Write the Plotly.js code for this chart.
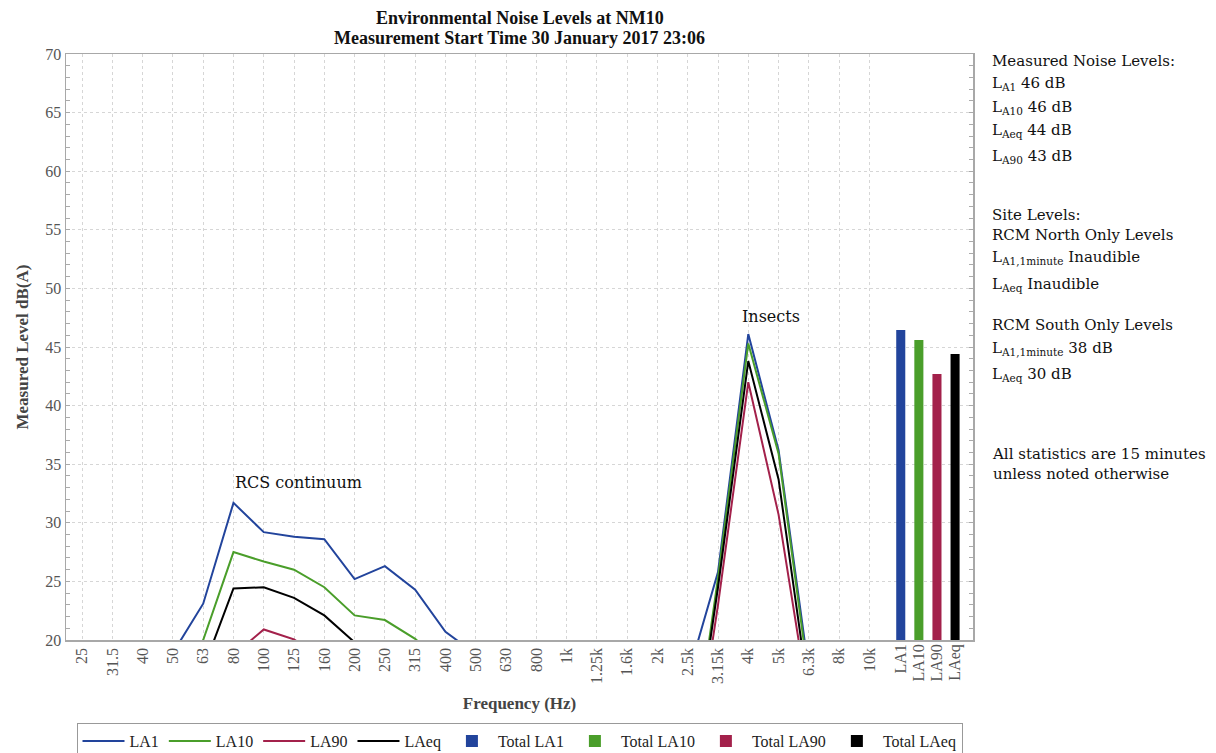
<!DOCTYPE html>
<html><head><meta charset="utf-8">
<script src="https://cdn.plot.ly/plotly-3.0.1.min.js"></script>
<style>html,body{margin:0;padding:0;background:#fff}#chart{width:1216px;height:753px}</style>
</head><body><div id="chart"></div>
<script>
// ---- data ----
const freqBands = ['25','31.5','40','50','63','80','100','125','160','200','250','315','400','500','630','800','1k','1.25k','1.6k','2k','2.5k','3.15k','4k','5k','6.3k','8k','10k'];
const la1  = [15.2,14.8,16.5,18.9,23.1,31.7,29.2,28.8,28.6,25.2,26.3,24.3,20.7,18.8,17.5,16.9,16.2,15.8,15.5,15.9,16.9,25.8,46.1,36.2,17.3,14.6,13.9];
const la10 = [13.5,13.2,14.8,16.8,20.0,27.5,26.7,26.0,24.5,22.1,21.7,20.1,17.8,16.2,15.1,14.6,14.0,13.6,13.4,13.8,7.1,25.3,45.3,35.9,16.6,13.0,12.2];
const la90 = [10.5,10.2,11.8,13.5,15.8,18.7,20.9,20.05,18.3,16.9,16.0,14.8,13.2,11.9,11.0,10.4,9.8,9.4,9.1,8.8,5.9,23.0,42.0,30.7,14.5,10.4,9.6];
const laeq = [12.0,11.8,13.5,15.2,17.5,24.4,24.5,23.6,22.1,19.8,18.2,16.5,14.8,13.2,12.3,11.8,11.2,10.8,10.5,10.2,6.9,24.5,43.8,33.7,15.3,11.5,10.8];
const totalLabels = ['LA1','LA10','LA90','LAeq'];
const totalValues = [46.45,45.6,42.7,44.4];
const lineNames = ['LA1','LA10','LA90','LAeq'];
const totalNames = ['Total LA1','Total LA10','Total LA90','Total LAeq'];
const measuredSubs = ['A1','A10','Aeq','A90'];
const measuredValues = [46,46,44,43];
const titleLines = ['Environmental Noise Levels at NM10','Measurement Start Time 30 January 2017 23:06'];

// ---- style ----
const colors = ['#22449c','#4a9e2a','#a3214b','#000000'];
const serif = 'Liberation Serif, Times New Roman, serif';
const textFont = 'DejaVu Serif, serif';

const series = [la1, la10, la90, laeq];
const traces = [];
series.forEach((s,i)=>{
  traces.push({type:'scatter', mode:'lines', name:lineNames[i], x:freqBands, y:s,
    line:{color:colors[i], width:2}, xaxis:'x', yaxis:'y', hoverinfo:'skip'});
});
totalLabels.forEach((lab,i)=>{
  traces.push({type:'bar', name:totalNames[i], x:[lab], y:[totalValues[i]], width:0.5,
    marker:{color:colors[i], line:{width:0}}, xaxis:'x2', yaxis:'y'});
});

const ann = [];
function rightText(t, py){
  ann.push({xref:'paper', yref:'paper', x:1.019, y:(640-py)/586, xanchor:'left', yanchor:'middle',
    text:t, showarrow:false, font:{family:textFont, size:15, color:'#111'}, align:'left'});
}
rightText('Measured Noise Levels:', 61);
const mY = [84, 107, 131, 157];
measuredSubs.forEach((s,i)=> rightText('L<sub>'+s+'</sub> '+measuredValues[i]+' dB', mY[i]));
rightText('Site Levels:<br>RCM North Only Levels', 224.5);
rightText('L<sub>A1,1minute</sub> Inaudible', 257);
rightText('L<sub>Aeq</sub> Inaudible', 284);
rightText('RCM South Only Levels', 325);
rightText('L<sub>A1,1minute</sub> 38 dB', 348);
rightText('L<sub>Aeq</sub> 30 dB', 374);
rightText('All statistics are 15 minutes<br>unless noted otherwise', 463.5);
ann.push({xref:'x', yref:'y', x:7.15, y:33.4, text:'RCS continuum', showarrow:false,
  font:{family:textFont, size:16, color:'#111'}});
ann.push({xref:'x', yref:'y', x:22.75, y:47.6, text:'Insects', showarrow:false,
  font:{family:textFont, size:16, color:'#111'}});
[18, 38].forEach((py,i)=>{
  ann.push({xref:'paper', yref:'paper', x:0.5, y:(640-py)/586, xanchor:'center', yanchor:'middle',
    text:titleLines[i], showarrow:false, font:{family:serif, size:18, weight:'bold', color:'#111'}});
});

const layout = {
  width:1216, height:753,
  margin:{l:66, r:243, t:54, b:113, autoexpand:false},
  paper_bgcolor:'#fff', plot_bgcolor:'#fff',
  font:{family:serif, color:'#333'},
  barmode:'overlay',
  showlegend:true,
  legend:{orientation:'h', x:0.5, xanchor:'center', y:-0.142, yanchor:'top',
    bordercolor:'#999', borderwidth:1, bgcolor:'#fff', itemwidth:42,
    font:{family:serif, size:16, color:'#222'}, traceorder:'normal'},
  xaxis:{type:'category', categoryorder:'array', categoryarray:freqBands,
    tickmode:'array', tickvals:freqBands, ticktext:freqBands,
    range:[-0.53, 29.42], tickangle:-90, ticks:'', automargin:false,
    tickfont:{family:serif, size:16, color:'#555'},
    showgrid:true, gridcolor:'#d6d6d6', griddash:'dot', gridwidth:1,
    showline:true, linecolor:'#a8a8a8', linewidth:1.5, mirror:true, zeroline:false,
    title:{text:'Frequency (Hz)', standoff:14, font:{family:serif, size:17, weight:'bold', color:'#444'}}},
  xaxis2:{type:'category', categoryorder:'array', categoryarray:totalLabels,
    tickmode:'array', tickvals:totalLabels, ticktext:totalLabels, automargin:false,
    overlaying:'x', anchor:'y', side:'bottom', range:[-46.1, 3.99],
    tickangle:-90, ticks:'', showgrid:false, showline:false, zeroline:false,
    tickfont:{family:serif, size:16, color:'#555'}},
  yaxis:{range:[20,70], dtick:5, tick0:20, ticks:'inside', ticklen:4, tickcolor:'#aaa', automargin:false,
    tickfont:{family:serif, size:16, color:'#555'},
    showgrid:true, gridcolor:'#d6d6d6', griddash:'dot', gridwidth:1,
    showline:true, linecolor:'#a8a8a8', linewidth:1.5, mirror:'ticks', zeroline:false,
    minor:{dtick:1, ticks:'inside', ticklen:4, tickcolor:'#aaa', showgrid:false},
    title:{text:'Measured Level dB(A)', standoff:12, font:{family:serif, size:17, weight:'bold', color:'#444'}}},
  annotations:ann
};

Plotly.newPlot('chart', traces, layout, {displayModeBar:false, staticPlot:true});
</script>
</body></html>
